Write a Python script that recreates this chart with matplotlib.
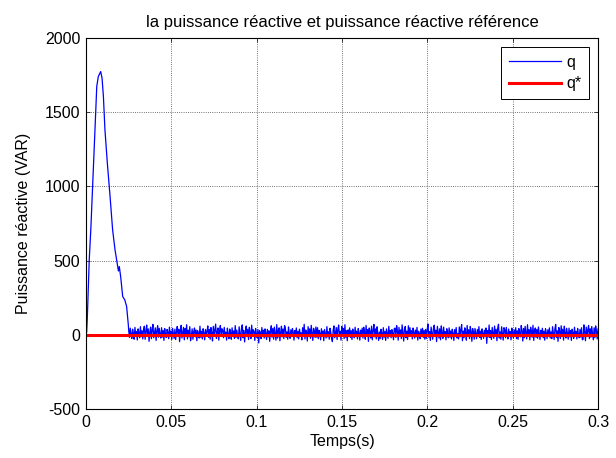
import numpy as np
import matplotlib

matplotlib.use("Agg")
import matplotlib.pyplot as plt

plt.rcParams["font.family"] = ["Liberation Sans", "DejaVu Sans"]
plt.rcParams["font.size"] = 11.5
plt.rcParams["axes.unicode_minus"] = False

# transient part of q (time s, VAR)
t_start = [0.0, 0.0004, 0.0008, 0.0019, 0.0029, 0.0039, 0.0047, 0.0055, 0.0063,
           0.0072, 0.0086, 0.0094, 0.0102, 0.0111, 0.0125, 0.0141, 0.0156,
           0.0170, 0.0184, 0.0190, 0.0195, 0.0203, 0.0215, 0.0227, 0.0238,
           0.0248]
q_start = [0, 20, 123, 505, 730, 1000, 1224, 1449, 1673,
           1740, 1774, 1730, 1606, 1381, 1157, 932, 707,
           573, 472, 430, 460, 393, 258, 236, 191,
           67]

# steady state ripple of q after 0.025 s (hand estimated)
q_ripple = [
    32, -18, 45, 5, -25, 38, 12, -30, 50, -8, 22, -35, 40, 15, -20, 55, -12, 28, -28, 35,
    58, -30, 24, 66, -12, 40, -44, 18, 52, -26, 35, 70, -20, 12, 47, -38, 28, 61, -16, 44,
    8, -22, 48, -15, 30, -38, 42, 2, -18, 36, 18, -26, 52, -10, 25, -32, 44, 10, -24, 38,
    -32, 20, 56, -8, 38, -46, 26, 64, -22, 15, 50, -34, 42, 9, 68, -28, 31, -14, 55, -40,
    -5, 40, -30, 20, 46, -14, 33, -40, 28, 6, -22, 58, -16, 24, -28, 41, 12, -34, 36, -6,
    23, 60, -18, 36, -30, 49, 14, -42, 57, -6, 33, 72, -24, 19, 46, -36, 27, 63, -10, 41,
    30, -20, 50, -12, 18, -36, 45, 4, -26, 39, 14, -30, 47, -8, 26, -24, 62, -18, 32, -10,
    -28, 54, 11, -38, 45, 67, -20, 30, -48, 22, 59, -12, 37, -32, 50, 16, -26, 65, -4, 34,
    22, -38, 43, 8, -20, 35, -55, 28, 16, -26, 49, -4, 31, -22, 40, 10, -32, 37, -14, 27,
    -44, 25, 61, -16, 43, -30, 52, 8, -36, 69, -22, 29, 47, -40, 18, 58, -14, 39, -26, 62,
    44, -18, 20, -30, 53, 6, -24, 34, -12, 42, 18, -36, 29, -8, 46, -20, 24, -28, 38, 2,
    13, -34, 48, -10, 71, -28, 32, 20, -42, 55, -6, 40, -24, 64, 10, -38, 44, 26, -18, 53,
    -16, 48, -26, 30, 12, -34, 41, -10, 26, -40, 36, 8, -22, 55, -14, 21, -30, 44, 16, -24,
    -46, 31, 60, -20, 15, 49, -32, 37, 66, -12, 24, -36, 57, 5, 42, -26, 68, -16, 28, -40,
    33, -6, 47, -18, 28, -32, 39, 4, -20, 51, -12, 25, -28, 42, 14, -36, 31, -8, 45, -22,
    51, 17, -30, 63, -8, 35, -44, 46, 21, -22, 58, -34, 30, 70, -14, 40, -28, 54, 12, -38,
    19, -26, 37, 10, -30, 48, -16, 23, -38, 40, 6, -24, 57, -10, 29, -20, 35, 12, -34, 43,
    45, -18, 62, 27, -36, 50, -10, 33, -26, 67, 14, -42, 39, 56, -20, 25, -32, 61, -6, 48,
    -4, 27, -28, 46, 16, -22, 32, -14, 50, -36, 24, 8, -26, 39, -12, 44, -18, 30, -30, 36,
    -24, 36, 73, -16, 22, -38, 52, 9, -30, 44, 65, -12, 31, -46, 57, 19, -22, 41, -34, 60,
    14, -24, 52, -8, 21, -34, 41, 2, -20, 47, -16, 26, -28, 38, 10, -38, 34, -6, 49, -22,
    7, -28, 53, -14, 38, 69, -40, 26, -20, 47, 15, -36, 63, -8, 34, -26, 56, 23, -44, 42,
    18, -30, 43, 6, -26, 36, -12, 55, -18, 24, -32, 40, 12, -24, 31, -10, 46, -58, 28, -14,
    66, -18, 29, -32, 50, 11, -24, 59, -10, 37, -40, 45, 71, -22, 20, -30, 54, 6, -36, 48,
    35, -20, 50, 4, -28, 39, -8, 22, -34, 45, 16, -22, 33, -12, 48, -26, 27, -30, 42, 8,
    -14, 62, 28, -42, 43, -20, 57, 17, -28, 68, -6, 35, -34, 51, 24, -16, 64, -38, 30, 46,
    -18, 37, -24, 53, 10, -32, 30, -6, 44, -20, 25, -36, 41, 14, -26, 34, -10, 47, -22, 20,
    -26, 55, 12, -32, 40, 70, -18, 27, -44, 49, 21, -24, 61, -10, 38, -36, 58, 14, -22, 44,
    6, -30, 45, -14, 29, -38, 38, 12, -24, 51, -8, 23, -28, 43, 2, -20, 36, -16, 48, -34,
    -30, 67, 19, -40, 52, -12, 33, 63, -26, 41, -16, 56, 8, -34, 47, -20, 60, 25, -28, 39,
]
t_ripple = np.linspace(0.025, 0.3, len(q_ripple))

t_ref = [0.0, 0.3]
q_ref = [0, 0]

x_ticks = [0, 0.05, 0.1, 0.15, 0.2, 0.25, 0.3]
x_labels = ["0", "0.05", "0.1", "0.15", "0.2", "0.25", "0.3"]
y_ticks = [-500, 0, 500, 1000, 1500, 2000]

t = np.concatenate([t_start, t_ripple])
q = np.concatenate([q_start, q_ripple])

fig = plt.figure(figsize=(6.16, 4.58), dpi=100)
ax = fig.add_axes([86 / 616, 49 / 458, 512 / 616, 371 / 458])

ax.plot(t, q, color="#0000ff", linewidth=0.9, label="q")
ax.plot(t_ref, q_ref, color="#ff0000", linewidth=2.2, label="q*")

ax.set_xlim(0, 0.3)
ax.set_ylim(-500, 2000)
ax.set_xticks(x_ticks, labels=x_labels)
ax.set_yticks(y_ticks)
ax.tick_params(direction="in", top=True, right=True, length=3, width=0.5, pad=4)
ax.grid(True, color="#444444", linestyle=":", linewidth=0.6)
for s in ax.spines.values():
    s.set_linewidth(0.8)

ax.set_title("la puissance réactive et puissance réactive référence",
             fontsize=12, pad=8)
ax.set_xlabel("Temps(s)", labelpad=3)
ax.set_ylabel("Puissance réactive (VAR)", labelpad=10)

leg = ax.legend(loc="upper right", handlelength=3.3, borderaxespad=0.55,
                fancybox=False, framealpha=1, edgecolor="black",
                labelspacing=0.4, handletextpad=0.3, borderpad=0.5)
leg.get_frame().set_linewidth(0.7)

fig.savefig("out.png", dpi=100)
